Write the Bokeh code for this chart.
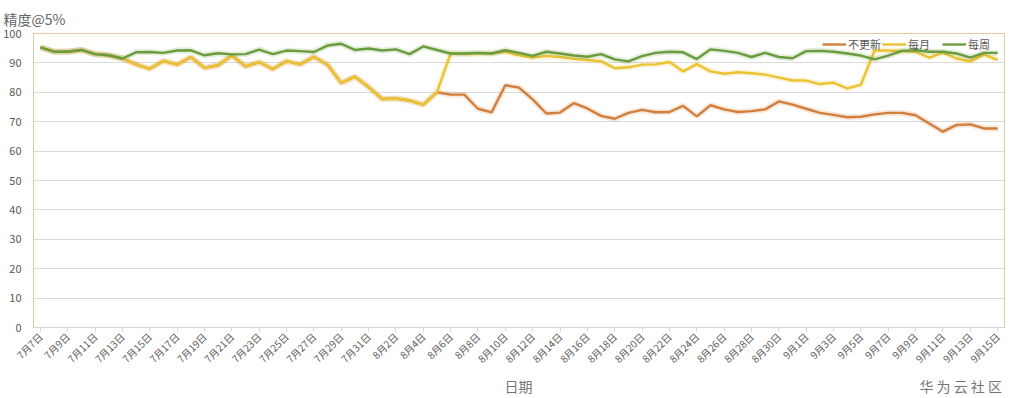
import math
from bokeh.plotting import figure
from bokeh.models import Range1d, FixedTicker, Legend, LegendItem, LinearAxis
from bokeh.embed import file_html
from bokeh.resources import INLINE

dates = [
    "7月7日", "7月8日", "7月9日", "7月10日", "7月11日", "7月12日", "7月13日", "7月14日",
    "7月15日", "7月16日", "7月17日", "7月18日", "7月19日", "7月20日", "7月21日", "7月22日",
    "7月23日", "7月24日", "7月25日", "7月26日", "7月27日", "7月28日", "7月29日", "7月30日",
    "7月31日", "8月1日", "8月2日", "8月3日", "8月4日", "8月5日", "8月6日", "8月7日",
    "8月8日", "8月9日", "8月10日", "8月11日", "8月12日", "8月13日", "8月14日", "8月15日",
    "8月16日", "8月17日", "8月18日", "8月19日", "8月20日", "8月21日", "8月22日", "8月23日",
    "8月24日", "8月25日", "8月26日", "8月27日", "8月28日", "8月29日", "8月30日", "8月31日",
    "9月1日", "9月2日", "9月3日", "9月4日", "9月5日", "9月6日", "9月7日", "9月8日",
    "9月9日", "9月10日", "9月11日", "9月12日", "9月13日", "9月14日", "9月15日",
]

no_update = [
    95.3, 93.8, 93.8, 94.4, 93.0, 92.6, 91.5, 89.5, 88.0, 90.7,
    89.4, 92.0, 88.3, 89.2, 92.5, 88.8, 90.3, 87.9, 90.6, 89.5,
    92.1, 89.4, 83.2, 85.3, 81.8, 77.7, 77.9, 77.2, 75.8, 80.0,
    79.2, 79.2, 74.4, 73.2, 82.4, 81.6, 77.6, 72.8, 73.1, 76.3,
    74.5, 72.0, 71.0, 73.0, 74.0, 73.2, 73.3, 75.4, 71.8, 75.6,
    74.2, 73.3, 73.6, 74.2, 76.9, 75.8, 74.4, 73.0, 72.3, 71.5,
    71.7, 72.5, 73.0, 73.0, 72.2, 69.4, 66.6, 68.9, 69.1, 67.7,
    67.7,
]

monthly = [
    95.3, 93.8, 93.8, 94.4, 93.0, 92.6, 91.5, 89.5, 88.0, 90.7,
    89.4, 92.0, 88.3, 89.2, 92.5, 88.8, 90.3, 87.9, 90.6, 89.5,
    92.1, 89.4, 83.2, 85.3, 81.8, 77.7, 77.9, 77.2, 75.8, 80.0,
    93.2, 93.0, 93.2, 93.2, 93.8, 92.6, 91.8, 92.4, 92.0, 91.4,
    91.0, 90.6, 88.2, 88.5, 89.4, 89.5, 90.3, 87.1, 89.6, 87.1,
    86.3, 86.8, 86.5, 86.0, 85.0, 84.0, 84.0, 82.8, 83.3, 81.3,
    82.6, 94.2, 94.2, 94.0, 93.8, 91.8, 93.5, 91.5, 90.5, 92.8,
    91.0,
]

weekly = [
    95.3, 93.8, 93.8, 94.4, 93.0, 92.6, 91.5, 93.6, 93.7, 93.4,
    94.2, 94.3, 92.6, 93.3, 92.9, 93.0, 94.5, 93.0, 94.2, 94.0,
    93.7, 95.9, 96.5, 94.4, 94.9, 94.2, 94.6, 93.0, 95.6, 94.4,
    93.2, 93.2, 93.4, 93.2, 94.3, 93.4, 92.4, 93.8, 93.2, 92.5,
    92.1, 93.0, 91.2, 90.5, 92.3, 93.4, 93.8, 93.6, 91.3, 94.6,
    94.1, 93.4, 92.0, 93.4, 92.0, 91.6, 94.0, 94.1, 93.8, 93.2,
    92.5, 91.2, 92.5, 94.1, 94.3, 93.8, 93.8, 93.2, 91.8, 93.4,
    93.4,
]

series_names = ["不更新", "每月", "每周"]
series_colors = ["#D27E3C", "#EBC232", "#6A9C3F"]
y_title = "精度@5%"
bottom_texts = ["日期", "华 为 云 社 区"]
bottom_text_pos = [34.96, 67.3]

FONT = "Noto Sans CJK SC"
x = list(range(len(dates)))

p = figure(width=1013, height=398, output_backend="svg", toolbar_location=None,
           x_range=Range1d(-0.5, len(dates) - 0.5), y_range=Range1d(0, 100),
           min_border_left=33, min_border_right=9, min_border_top=33,
           min_border_bottom=67)
p.background_fill_color = "white"
p.border_fill_color = "white"
p.outline_line_color = "#E3C8A6"
p.outline_line_width = 1

p.title.text = y_title
p.title.align = "left"
p.title.offset = -30
p.title.standoff = 10
p.title.text_font = FONT
p.title.text_font_size = "14px"
p.title.text_font_style = "normal"
p.title.text_color = "#666666"

p.xgrid.visible = False
p.ygrid.grid_line_color = "#DADADA"
p.ygrid.grid_line_width = 1

p.yaxis.ticker = FixedTicker(ticks=list(range(0, 101, 10)))
p.yaxis.axis_line_color = None
p.yaxis.major_tick_line_color = None
p.yaxis.minor_tick_line_color = None
p.yaxis.major_label_standoff = 6
p.yaxis.major_label_text_font = FONT
p.yaxis.major_label_text_font_size = "11px"
p.yaxis.major_label_text_color = "#595959"

p.xaxis.ticker = FixedTicker(ticks=x[::2])
p.xaxis.major_label_overrides = {i: dates[i] for i in x[::2]}
p.xaxis.axis_line_color = "#D5D5D5"
p.xaxis.major_tick_line_color = "#D5D5D5"
p.xaxis.major_tick_out = 4
p.xaxis.major_tick_in = 0
p.xaxis.minor_tick_line_color = None
p.xaxis.major_label_orientation = math.pi / 4
p.xaxis.major_label_standoff = 3
p.xaxis.major_label_text_font = FONT
p.xaxis.major_label_text_font_size = "10px"
p.xaxis.major_label_text_color = "#595959"

ax2 = LinearAxis(ticker=FixedTicker(ticks=bottom_text_pos),
                 major_label_overrides=dict(zip(bottom_text_pos, bottom_texts)),
                 axis_line_color=None, major_tick_line_color=None,
                 minor_tick_line_color=None, major_tick_out=0, major_tick_in=0,
                 major_label_standoff=1, major_label_text_font=FONT,
                 major_label_text_font_size="14px", major_label_text_color="#767676")
p.add_layout(ax2, "below")

items = []
for name, vals, col in zip(series_names, [no_update, monthly, weekly], series_colors):
    p.line(x, vals, line_color=col, line_width=6, line_alpha=0.18)
    r = p.line(x, vals, line_color=col, line_width=2.4)
    items.append(LegendItem(label=name, renderers=[r]))

legend = Legend(items=items, orientation="horizontal", location="top_right",
                label_text_font=FONT, label_text_font_size="11px",
                label_text_color="#595959", glyph_width=24, glyph_height=10,
                label_standoff=2, label_width=33, spacing=1, padding=0, margin=3,
                border_line_color=None, background_fill_alpha=0)
p.add_layout(legend, "center")

open("out.html", "w").write(file_html(p, INLINE))
